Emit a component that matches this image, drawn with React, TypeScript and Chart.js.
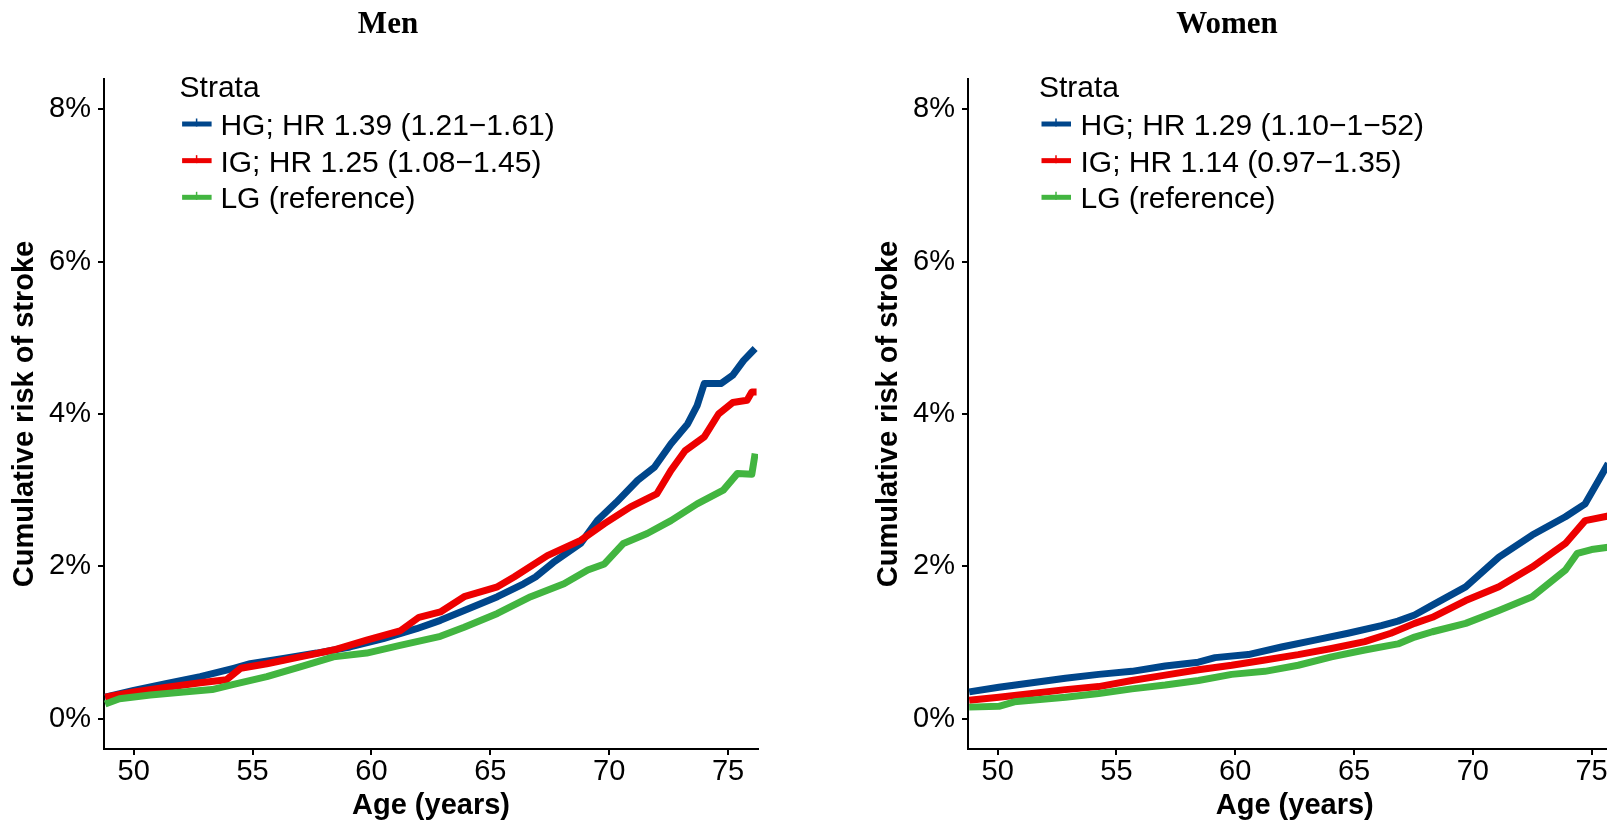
import React, { useEffect, useRef } from "react";
import { Chart, registerables } from "chart.js";

Chart.register(...registerables);

// ---------------- data ----------------
const xTicks = [50, 55, 60, 65, 70, 75];
const yTicks = [0, 2, 4, 6, 8];
const xLimits = [48.75, 76.26];
const yLimits = [-0.4, 8.4];

const legendTitle = "Strata";
const strataColors = ["#00468B", "#ED0000", "#42B540"];
const menTitle = "Men";
const womenTitle = "Women";
const menLabels = ["HG; HR 1.39 (1.21\u22121.61)", "IG; HR 1.25 (1.08\u22121.45)", "LG (reference)"];
const womenLabels = ["HG; HR 1.29 (1.10\u22121\u221252)", "IG; HR 1.14 (0.97\u22121.35)", "LG (reference)"];
const xTitle = "Age (years)";
const yTitle = "Cumulative risk of stroke";

// Men
const menHgAge = [48.8, 50.0, 51.4, 52.8, 54.2, 54.9, 56.3, 57.7, 59.1, 60.5, 61.9, 62.9, 63.9, 65.3, 66.4, 66.9, 67.65, 68.8, 69.5, 70.3, 71.2, 71.9, 72.6, 73.3, 73.7, 74.0, 74.7, 75.2, 75.65, 76.14];
const menHgRisk = [0.28, 0.37, 0.46, 0.55, 0.66, 0.72, 0.79, 0.86, 0.94, 1.05, 1.18, 1.29, 1.42, 1.6, 1.77, 1.86, 2.05, 2.3, 2.6, 2.84, 3.13, 3.3, 3.61, 3.87, 4.11, 4.4, 4.4, 4.51, 4.7, 4.86];
const menIgAge = [48.8, 50.0, 51.4, 52.8, 53.9, 54.5, 55.6, 57.0, 58.4, 59.8, 61.2, 62.0, 62.9, 63.9, 65.3, 66.0, 67.4, 68.8, 69.8, 70.9, 72.0, 72.6, 73.2, 74.0, 74.6, 75.2, 75.8, 76.0, 76.2];
const menIgRisk = [0.28, 0.35, 0.41, 0.47, 0.51, 0.66, 0.72, 0.81, 0.9, 1.03, 1.15, 1.33, 1.4, 1.6, 1.73, 1.86, 2.14, 2.34, 2.56, 2.78, 2.95, 3.26, 3.52, 3.7, 4.0, 4.15, 4.18, 4.29, 4.29];
const menLgAge = [48.8, 49.4, 50.7, 52.1, 53.3, 54.2, 55.6, 57.0, 58.4, 59.8, 61.2, 62.9, 63.9, 65.3, 66.7, 68.1, 69.1, 69.8, 70.6, 71.6, 72.6, 73.7, 74.8, 75.4, 76.0, 76.14];
const menLgRisk = [0.19, 0.26, 0.31, 0.35, 0.38, 0.45, 0.55, 0.68, 0.81, 0.86, 0.96, 1.08, 1.2, 1.38, 1.6, 1.77, 1.95, 2.03, 2.3, 2.43, 2.6, 2.82, 3.0, 3.22, 3.21, 3.48];

// Women
const womenHgAge = [48.8, 50.05, 51.45, 52.85, 54.25, 55.65, 57.05, 58.45, 59.15, 60.55, 61.95, 63.35, 64.75, 66.15, 66.85, 67.55, 68.3, 69.7, 71.1, 72.5, 73.9, 74.73, 75.3, 75.7];
const womenHgRisk = [0.35, 0.41, 0.47, 0.53, 0.58, 0.62, 0.69, 0.74, 0.8, 0.84, 0.94, 1.03, 1.12, 1.22, 1.28, 1.36, 1.49, 1.73, 2.12, 2.41, 2.65, 2.82, 3.13, 3.35];
const womenIgAge = [48.8, 50.05, 51.45, 52.85, 54.25, 55.65, 57.05, 58.45, 59.85, 61.25, 62.65, 64.05, 65.45, 66.55, 67.55, 68.3, 69.7, 71.1, 72.5, 73.9, 74.73, 75.7];
const womenIgRisk = [0.24, 0.28, 0.33, 0.38, 0.42, 0.5, 0.57, 0.64, 0.7, 0.77, 0.84, 0.92, 1.01, 1.12, 1.25, 1.33, 1.55, 1.73, 1.99, 2.3, 2.6, 2.66];
const womenLgAge = [48.8, 50.05, 50.7, 52.85, 54.25, 55.65, 57.05, 58.45, 59.85, 61.25, 62.65, 64.05, 65.45, 66.85, 67.55, 68.3, 69.7, 71.1, 72.5, 73.9, 74.4, 75.0, 75.7];
const womenLgRisk = [0.15, 0.16, 0.22, 0.28, 0.33, 0.39, 0.44, 0.5, 0.58, 0.62, 0.7, 0.81, 0.9, 0.98, 1.07, 1.14, 1.25, 1.42, 1.6, 1.95, 2.17, 2.22, 2.25];

// ---------------- chart helpers ----------------
type Series = { ages: number[]; risk: number[] };

const SANS = '"Liberation Sans", Arial, Helvetica, sans-serif';
const SERIF = '"Liberation Serif", "Times New Roman", serif';

const panelDecor = {
  id: "panelDecor",
  afterDraw(chart: any, _args: any, opts: any) {
    const { ctx, chartArea } = chart;
    ctx.save();
    ctx.fillStyle = "#000";
    ctx.font = `bold 31px ${SERIF}`;
    ctx.textAlign = "center";
    ctx.textBaseline = "alphabetic";
    ctx.fillText(opts.title, opts.titleX, 32.5);

    const lx = chartArea.left + opts.legendDx;
    ctx.font = `30px ${SANS}`;
    ctx.textAlign = "left";
    ctx.fillText(opts.legendTitle, lx, 97);
    chart.data.datasets.forEach((ds: any, i: number) => {
      const base = 135 + i * 36.65;
      const cy = base - 11;
      ctx.strokeStyle = ds.borderColor;
      ctx.lineCap = "butt";
      ctx.lineWidth = 5;
      ctx.beginPath();
      ctx.moveTo(lx + 2.5, cy);
      ctx.lineTo(lx + 32, cy);
      ctx.stroke();
      ctx.lineWidth = 1.5;
      ctx.beginPath();
      ctx.moveTo(lx + 17, cy - 5.5);
      ctx.lineTo(lx + 17, cy + 2.5);
      ctx.stroke();
      ctx.fillStyle = "#000";
      ctx.fillText(ds.label, lx + opts.textDx, base);
    });
    ctx.restore();
  },
};

type PanelProps = {
  title: string;
  labels: string[];
  series: Series[];
  left: number;
  width: number;
  padLeft: number;
  padRight: number;
  titleX: number;
  legendDx: number;
  textDx: number;
};

function Panel(p: PanelProps) {
  const ref = useRef<HTMLCanvasElement>(null);
  useEffect(() => {
    if (!ref.current) return;
    const n = p.series.length;
    const datasets = p.series.map((s, i) => ({
      label: p.labels[i],
      data: s.ages.map((a, j) => ({ x: a, y: s.risk[j] })),
      borderColor: strataColors[i],
      backgroundColor: strataColors[i],
      borderWidth: 7,
      pointRadius: 0,
      tension: 0,
      fill: false,
      borderJoinStyle: "round" as const,
      order: n - i,
    }));
    const chart = new Chart(ref.current, {
      type: "line",
      data: { datasets },
      plugins: [panelDecor as any],
      options: {
        responsive: false,
        animation: false,
        events: [],
        layout: { padding: { left: p.padLeft, right: p.padRight, top: 79, bottom: 0 } },
        plugins: {
          legend: { display: false },
          title: { display: false },
          tooltip: { enabled: false },
          panelDecor: {
            title: p.title,
            titleX: p.titleX,
            legendDx: p.legendDx,
            textDx: p.textDx,
            legendTitle,
          },
        } as any,
        scales: {
          x: {
            type: "linear",
            min: xLimits[0],
            max: xLimits[1],
            afterBuildTicks: (s: any) => {
              s.ticks = xTicks.map((v) => ({ value: v }));
            },
            afterFit: (s: any) => {
              s.height = 77;
            },
            ticks: {
              autoSkip: false,
              maxRotation: 0,
              padding: 0,
              color: "#000",
              font: { family: SANS, size: 29 },
              callback: (v: any) => String(v),
            },
            grid: {
              display: true,
              drawOnChartArea: false,
              drawTicks: true,
              tickLength: 6,
              color: "#000",
              lineWidth: 2,
            },
            border: { display: true, color: "#000", width: 2 },
            title: {
              display: true,
              text: xTitle,
              color: "#000",
              font: { family: SANS, size: 29, weight: "bold" },
              padding: { top: 0, bottom: 3 },
            },
          },
          y: {
            type: "linear",
            min: yLimits[0],
            max: yLimits[1],
            afterBuildTicks: (s: any) => {
              s.ticks = yTicks.map((v) => ({ value: v }));
            },
            afterFit: (s: any) => {
              s.width = 104;
            },
            ticks: {
              padding: 7,
              color: "#000",
              font: { family: SANS, size: 29 },
              callback: (v: any) => `${v}%`,
            },
            grid: {
              display: true,
              drawOnChartArea: false,
              drawTicks: true,
              tickLength: 6,
              color: "#000",
              lineWidth: 2,
            },
            border: { display: true, color: "#000", width: 2 },
            title: {
              display: true,
              text: yTitle,
              color: "#000",
              font: { family: SANS, size: 29, weight: "bold" },
              padding: { top: 7.6, bottom: 0 },
            },
          },
        },
      },
    });
    return () => chart.destroy();
  }, []);
  return (
    <canvas
      ref={ref}
      width={p.width}
      height={826}
      style={{ position: "absolute", left: p.left, top: 0, width: p.width, height: 826 }}
    />
  );
}

export default function App() {
  const menSeries: Series[] = [
    { ages: menHgAge, risk: menHgRisk },
    { ages: menIgAge, risk: menIgRisk },
    { ages: menLgAge, risk: menLgRisk },
  ];
  const womenSeries: Series[] = [
    { ages: womenHgAge, risk: womenHgRisk },
    { ages: womenIgAge, risk: womenIgRisk },
    { ages: womenLgAge, risk: womenLgRisk },
  ];
  return (
    <div
      style={{
        position: "absolute",
        left: 0,
        top: 0,
        width: 1607,
        height: 826,
        overflow: "hidden",
        background: "#fff",
      }}
    >
      <Panel
        title={menTitle}
        labels={menLabels}
        series={menSeries}
        left={0}
        width={776}
        padLeft={0}
        padRight={18}
        titleX={388}
        legendDx={75.6}
        textDx={40.8}
      />
      <Panel
        title={womenTitle}
        labels={womenLabels}
        series={womenSeries}
        left={827}
        width={798}
        padLeft={37}
        padRight={3.5}
        titleX={400}
        legendDx={71}
        textDx={41.5}
      />
    </div>
  );
}
